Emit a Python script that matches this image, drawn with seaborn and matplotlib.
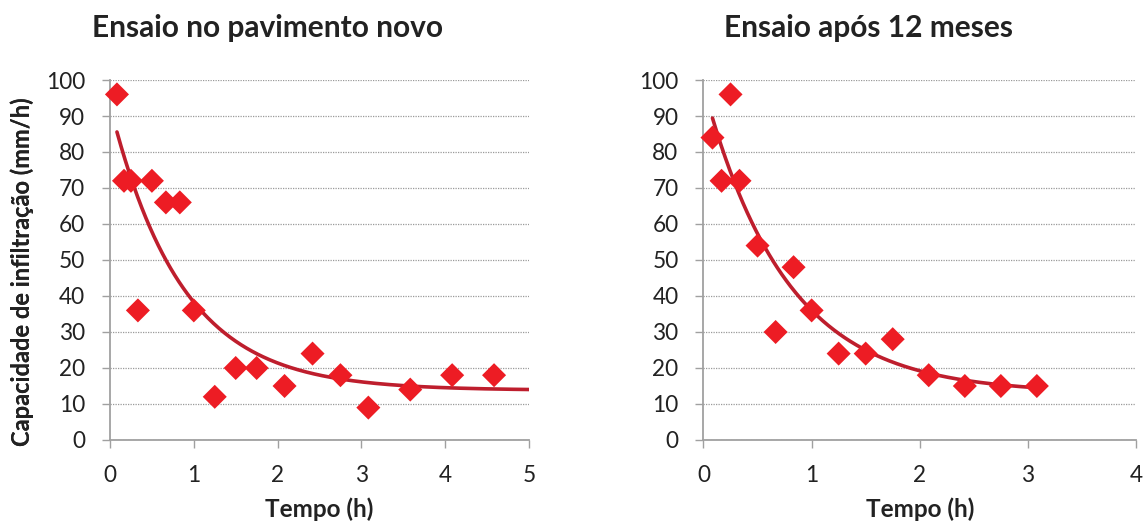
import numpy as np
import pandas as pd
import matplotlib
matplotlib.use("Agg")
import matplotlib.pyplot as plt
import seaborn as sns

# --- Infiltration test, new pavement ---
tempo_novo = [0.083, 0.167, 0.25, 0.333, 0.5, 0.667, 0.833, 1.0, 1.25,
              1.5, 1.75, 2.083, 2.417, 2.75, 3.083, 3.583, 4.083, 4.583]
capac_novo = [96, 72, 72, 36, 72, 66, 66, 36, 12,
              20, 20, 15, 24, 18, 9, 14, 18, 18]

# --- Infiltration test, after 12 months ---
tempo_12m = [0.083, 0.167, 0.25, 0.333, 0.5, 0.667, 0.833, 1.0, 1.25,
             1.5, 1.75, 2.083, 2.417, 2.75, 3.083]
capac_12m = [84, 72, 96, 72, 54, 30, 48, 36, 24,
             24, 28, 18, 15, 15, 15]

# Horton model f(t) = fc + (f0 - fc) * exp(-k t): fc, f0 - fc, k, t range
horton_novo = dict(fc=13.8, amp=79.1, k=1.172, t0=0.083, t1=5.0)
horton_12m = dict(fc=13.0, amp=85.2, k=1.309, t0=0.083, t1=3.083)

titles = ["Ensaio no pavimento novo", "Ensaio após 12 meses"]
xlims = [5, 4]
y_ticks = list(range(0, 101, 10))
xlabel = "Tempo (h)"
ylabel = "Capacidade de infiltração (mm/h)"

MARKER_RED = "#ED1C24"
CURVE_RED = "#BE1E2D"
AXIS_GRAY = "#A0A0A0"
TEXT = "#222222"

sns.set_theme(style="white")
plt.rcParams["font.family"] = ["Lato", "DejaVu Sans"]

W, H = 1144, 529
fig = plt.figure(figsize=(W / 100, H / 100), dpi=100)

axes_px = [(110, 419), (703.5, 432.5)]
title_cx = [267, 868]

datasets = [
    (tempo_novo, capac_novo, horton_novo),
    (tempo_12m, capac_12m, horton_12m),
]

for i, ((t, f, hp), (x0, w)) in enumerate(zip(datasets, axes_px)):
    ax = fig.add_axes([x0 / W, 89 / H, w / W, 360 / H])
    df = pd.DataFrame({"t": t, "f": f})
    tc = np.linspace(hp["t0"], hp["t1"], 300)
    curve = pd.DataFrame({"t": tc, "f": hp["fc"] + hp["amp"] * np.exp(-hp["k"] * tc)})

    sns.lineplot(data=curve, x="t", y="f", ax=ax, color=CURVE_RED,
                 linewidth=2.6, zorder=3)
    sns.scatterplot(data=df, x="t", y="f", ax=ax, marker="D", s=150,
                    color=MARKER_RED, edgecolor="none", linewidth=0, zorder=4,
                    clip_on=False)

    ax.set_xlim(0, xlims[i])
    ax.set_ylim(0, 100)
    ax.set_xticks(range(0, xlims[i] + 1))
    ax.set_yticks(y_ticks)
    ax.yaxis.grid(True, linestyle=(0, (1, 1)), color="#9A9A9A", linewidth=0.9)
    ax.xaxis.grid(False)
    ax.set_axisbelow(True)
    for side in ["top", "right"]:
        ax.spines[side].set_visible(False)
    for side in ["left", "bottom"]:
        ax.spines[side].set_color(AXIS_GRAY)
        ax.spines[side].set_linewidth(1.3)
    ax.tick_params(axis="both", which="major", direction="out", length=6,
                   width=1.0, color=AXIS_GRAY, labelsize=16.3, labelcolor=TEXT,
                   left=True, bottom=True)
    ax.tick_params(axis="y", pad=12)
    ax.tick_params(axis="x", pad=12)

    ax.set_xlabel(xlabel, fontsize=17.5, fontweight="bold", color=TEXT, labelpad=8)
    ax.set_ylabel(ylabel, fontsize=17, fontweight="bold", color=TEXT,
                  ha="center", va="center")
    ax.yaxis.set_label_coords((22.5 - x0) / w, (440 - 272) / 360)

    fig.text(title_cx[i] / W, 1 - 28 / H, titles[i], ha="center", va="center",
             fontsize=21.5, fontweight="bold", color=TEXT)

fig.savefig("out.png", dpi=100)
